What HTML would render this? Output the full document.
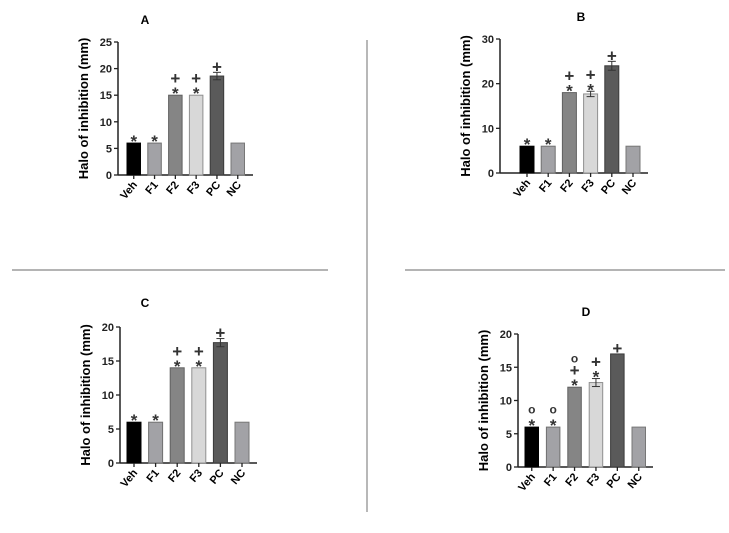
<!DOCTYPE html>
<html><head><meta charset="utf-8"><style>
body{margin:0;background:#fff;width:729px;height:528px;overflow:hidden}
svg{font-family:"Liberation Sans",Arial,sans-serif}
</style></head><body>
<svg id="fig" width="729" height="528">
<line x1="367" y1="40" x2="367" y2="512" stroke="#888" stroke-width="1.2"/>
<line x1="12" y1="270" x2="328" y2="270" stroke="#888" stroke-width="1.2"/>
<line x1="405" y1="270" x2="725" y2="270" stroke="#888" stroke-width="1.2"/>
</svg>
<script>
const categories=["Veh","F1","F2","F3","PC","NC"];
const valuesA=[6,6,15,15,18.6,6];
const errorsA=[0,0,0,0,0.7,0];
const marksA=[["*"],["*"],["*","+"],["*","+"],["+"],[]];
const valuesB=[6,6,18,17.7,24,6];
const errorsB=[0,0,0,0.6,1,0];
const marksB=[["*"],["*"],["*","+"],["*","+"],["+"],[]];
const valuesC=[6,6,14,14,17.7,6];
const errorsC=[0,0,0,0,0.6,0];
const marksC=[["*"],["*"],["*","+"],["*","+"],["+"],[]];
const valuesD=[6,6,12,12.7,17,6];
const errorsD=[0,0,0,0.6,0,0];
const marksD=[["*","o"],["*","o"],["*","+","o"],["*","+"],["+"],[]];
const ticksA=[0,5,10,15,20,25];
const ticksB=[0,10,20,30];
const ticksC=[0,5,10,15,20];
const ticksD=[0,5,10,15,20];
const fills=["#000","#a2a2a6","#858585","#d8d8d8","#5a5a5a","#a2a2a6"];
const strokes=["#000","#707070","#606060","#909090","#3a3a3a","#777"];
const NS="http://www.w3.org/2000/svg";
const svg=document.getElementById('fig');
function mk(t,a,p){const e=document.createElementNS(NS,t);for(const k in a)e.setAttribute(k,a[k]);(p||svg).appendChild(e);return e;}
function panel(key,title,vals,errs,marks,ticks,g){
  const grp=mk('g',{});
  
  
  const ymax=ticks[ticks.length-1];
  const y=v=>g.y0-(v/ymax)*(g.y0-g.yt);
  const x=i=>g.b0+i*g.pitch;
  const t=mk('text',{x:g.tx,y:g.ty,'text-anchor':'middle','font-size':12,'font-weight':'bold'},grp);t.textContent=title;
  
  
  const ya=mk('line',{x1:g.ax,y1:g.yt,x2:g.ax,y2:g.y0,stroke:'#222','stroke-width':1.5},grp);
  
  
  const xa=mk('line',{x1:g.ax,y1:g.y0,x2:g.ae,y2:g.y0,stroke:'#222','stroke-width':1.5},grp);
  
  
  ticks.forEach(v=>{
    mk('line',{x1:g.ax-4,y1:y(v),x2:g.ax,y2:y(v),stroke:'#222','stroke-width':1.3},grp);
    const tl=mk('text',{x:g.ax-6,y:y(v)+4,'text-anchor':'end','font-size':11,'font-weight':'bold',fill:'#222'},grp);tl.textContent=v;
    
    
  });
  const yt=mk('text',{x:0,y:0,transform:`translate(${g.ax-30},${(g.y0+g.yt)/2}) rotate(-90)`,'text-anchor':'middle','font-size':13,'font-weight':'bold'},grp);
  yt.textContent='Halo of inhibition (mm)';
  
  
  categories.forEach((c,i)=>{
    const bx=x(i),top=y(vals[i]);
    const r=mk('rect',{x:bx,y:top,width:g.bw,height:g.y0-top,fill:fills[i],stroke:strokes[i],'stroke-width':1},grp);
    
    
    const cx=bx+g.bw/2;
    let cur=top;
    if(errs[i]>0){
      const ye=y(vals[i]+errs[i]),yl=y(vals[i]-errs[i]);
      mk('line',{x1:cx,y1:ye,x2:cx,y2:yl,stroke:'#333'},grp);
      mk('line',{x1:cx-4,y1:ye,x2:cx+4,y2:ye,stroke:'#333'},grp);
      mk('line',{x1:cx-4,y1:yl,x2:cx+4,y2:yl,stroke:'#333'},grp);
      cur=ye;
    }
    let center=cur-5.5;
    marks[i].forEach(m=>{
      let fs=17,off=9.5;
      if(m==='+'){fs=17;off=5.5;}
      if(m==='o'){fs=12;off=3;}
      const mt=mk('text',{x:cx,y:center+off,'text-anchor':'middle','font-size':fs,'font-weight':'bold',fill:'#333'},grp);
      mt.textContent=m;
      
      
      center-=11;
    });
    mk('line',{x1:cx,y1:g.y0,x2:cx,y2:g.y0+4,stroke:'#222','stroke-width':1.3},grp);
    const xl=mk('text',{x:0,y:0,transform:`translate(${cx+4},${g.y0+10}) rotate(-50)`,'text-anchor':'end','font-size':11,'font-weight':'bold'},grp);
    xl.textContent=c;
    
    
  });
}
panel('a','A',valuesA,errorsA,marksA,ticksA,{ax:118,ae:253,y0:175,yt:42,b0:127,pitch:20.8,bw:13.5,tx:145,ty:24});
panel('b','B',valuesB,errorsB,marksB,ticksB,{ax:500,ae:648,y0:173,yt:39,b0:520,pitch:21.2,bw:14,tx:581,ty:21});
panel('c','C',valuesC,errorsC,marksC,ticksC,{ax:120,ae:257,y0:463,yt:327,b0:127,pitch:21.6,bw:14,tx:145,ty:307});
panel('d','D',valuesD,errorsD,marksD,ticksD,{ax:518,ae:653,y0:467,yt:334,b0:525,pitch:21.4,bw:13.5,tx:586,ty:316});
</script>
</body></html>
